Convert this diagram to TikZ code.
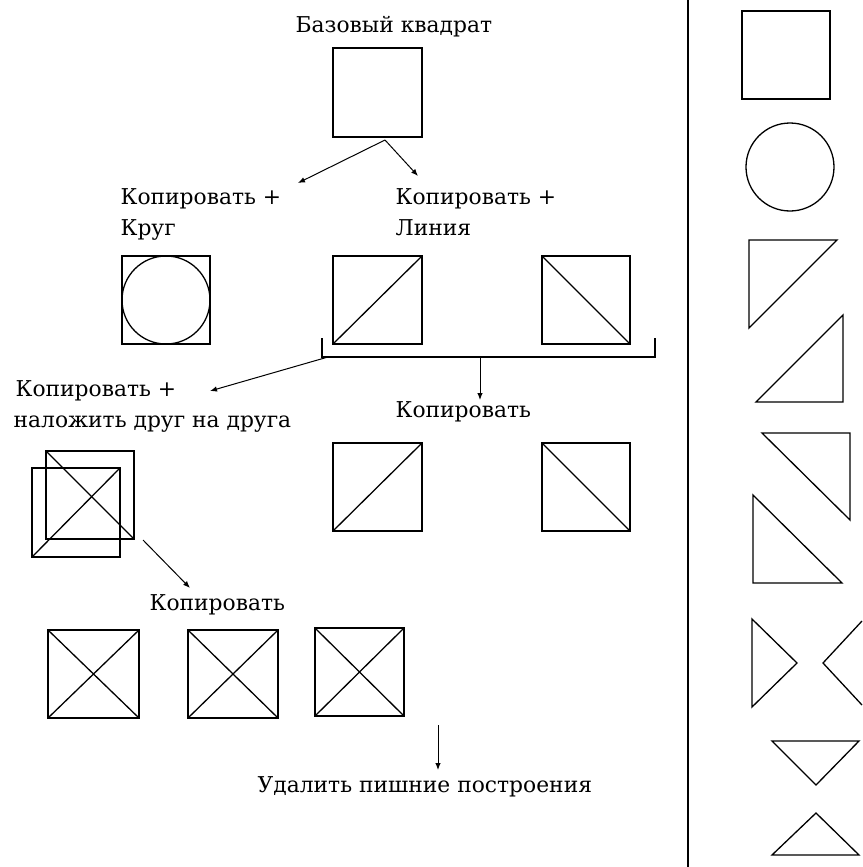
\documentclass[tikz,border=0pt]{standalone}
\usepackage{fontspec}
\setmainfont{DejaVu Serif}
\usetikzlibrary{arrows.meta}
\begin{document}
\begin{tikzpicture}[x=1pt,y=-1pt,line width=1.3pt,line join=miter,
  lbl/.style={anchor=base west,inner sep=0pt,font=\fontsize{21.8}{22}\selectfont},
  arr/.style={-{Latex[length=7pt,width=5.5pt]},line width=1pt}]
\useasboundingbox (0,0) rectangle (862,867);
% ---------- labels
\node[lbl] (tbase) at (295,33) {Базовый квадрат};
\node[lbl] (tcopyL) at (120,204) {Копировать +};
\node[lbl] (tcirc) at (120,235) {Круг};
\node[lbl] (tcopyR) at (395,204) {Копировать +};
\node[lbl] (tline) at (395,235) {Линия};
\node[lbl] (tcopyO) at (15,396) {Копировать +};
\node[lbl] (tover) at (13,427) {наложить друг на друга};
\node[lbl] (tcopyM) at (395,417) {Копировать};
\node[lbl] (tcopyB) at (149,610) {Копировать};
\node[lbl] (tdel) at (257,792) {Удалить пишние построения};
% ---------- base square
\draw (333,48) rectangle (422,137);
\coordinate (b0) at (385,140);
\coordinate (bl) at (298,183);
\coordinate (br) at (418,176);
\draw[arr] (b0) -- (bl);
\draw[arr] (b0) -- (br);
% ---------- second row
\draw (122,256) rectangle (210,344);
\draw (166,300) circle (44);
\draw (333,256) rectangle (422,344);
\draw (333,344) -- (422,256);
\draw (542,256) rectangle (630,344);
\draw (542,256) -- (630,344);
% bracket
\draw (322,338) -- (322,357) -- (655,357) -- (655,338);
\coordinate (k0) at (480,357);
\coordinate (k1) at (480,400);
\draw[arr] (k0) -- (k1);
\coordinate (kl) at (328,357);
\coordinate (kle) at (210,391);
\draw[arr] (kl) -- (kle);
% ---------- middle copies
\draw (333,443) rectangle (422,531);
\draw (333,531) -- (422,443);
\draw (542,443) rectangle (630,531);
\draw (542,443) -- (630,531);
% ---------- overlapped squares
\draw (46,451) rectangle (134,539);
\draw (32,468) rectangle (120,557);
\draw (46,451) -- (134,539);
\draw (32,557) -- (120,468);
\coordinate (o0) at (143,540);
\coordinate (o1) at (190,588);
\draw[arr] (o0) -- (o1);
% ---------- bottom row
\draw (48,630) rectangle (139,718);
\draw (48,630) -- (139,718) (48,718) -- (139,630);
\draw (188,630) rectangle (278,718);
\draw (188,630) -- (278,718) (188,718) -- (278,630);
\draw (315,628) rectangle (404,716);
\draw (315,628) -- (404,716) (315,716) -- (404,628);
\coordinate (d0) at (438,725);
\coordinate (d1) at (438,770);
\draw[arr] (d0) -- (d1);
% ---------- divider
\draw (688,0) -- (688,867);
% ---------- right column
\draw (742,11) rectangle (830,99);
\draw (790,167) circle (44);
\draw (749,240) -- (837,240) -- (749,328) -- cycle;
\draw (843,315) -- (843,402) -- (756,402) -- cycle;
\draw (762,433) -- (850,433) -- (850,520) -- cycle;
\draw (753,495) -- (753,583) -- (842,583) -- cycle;
\draw (752,619) -- (797,663) -- (752,707) -- cycle;
\draw (862,621) -- (823,663) -- (862,705);
\draw (772,741) -- (859,741) -- (816,785) -- cycle;
\draw (816,813) -- (772,855) -- (859,855) -- cycle;
\end{tikzpicture}
\end{document}
